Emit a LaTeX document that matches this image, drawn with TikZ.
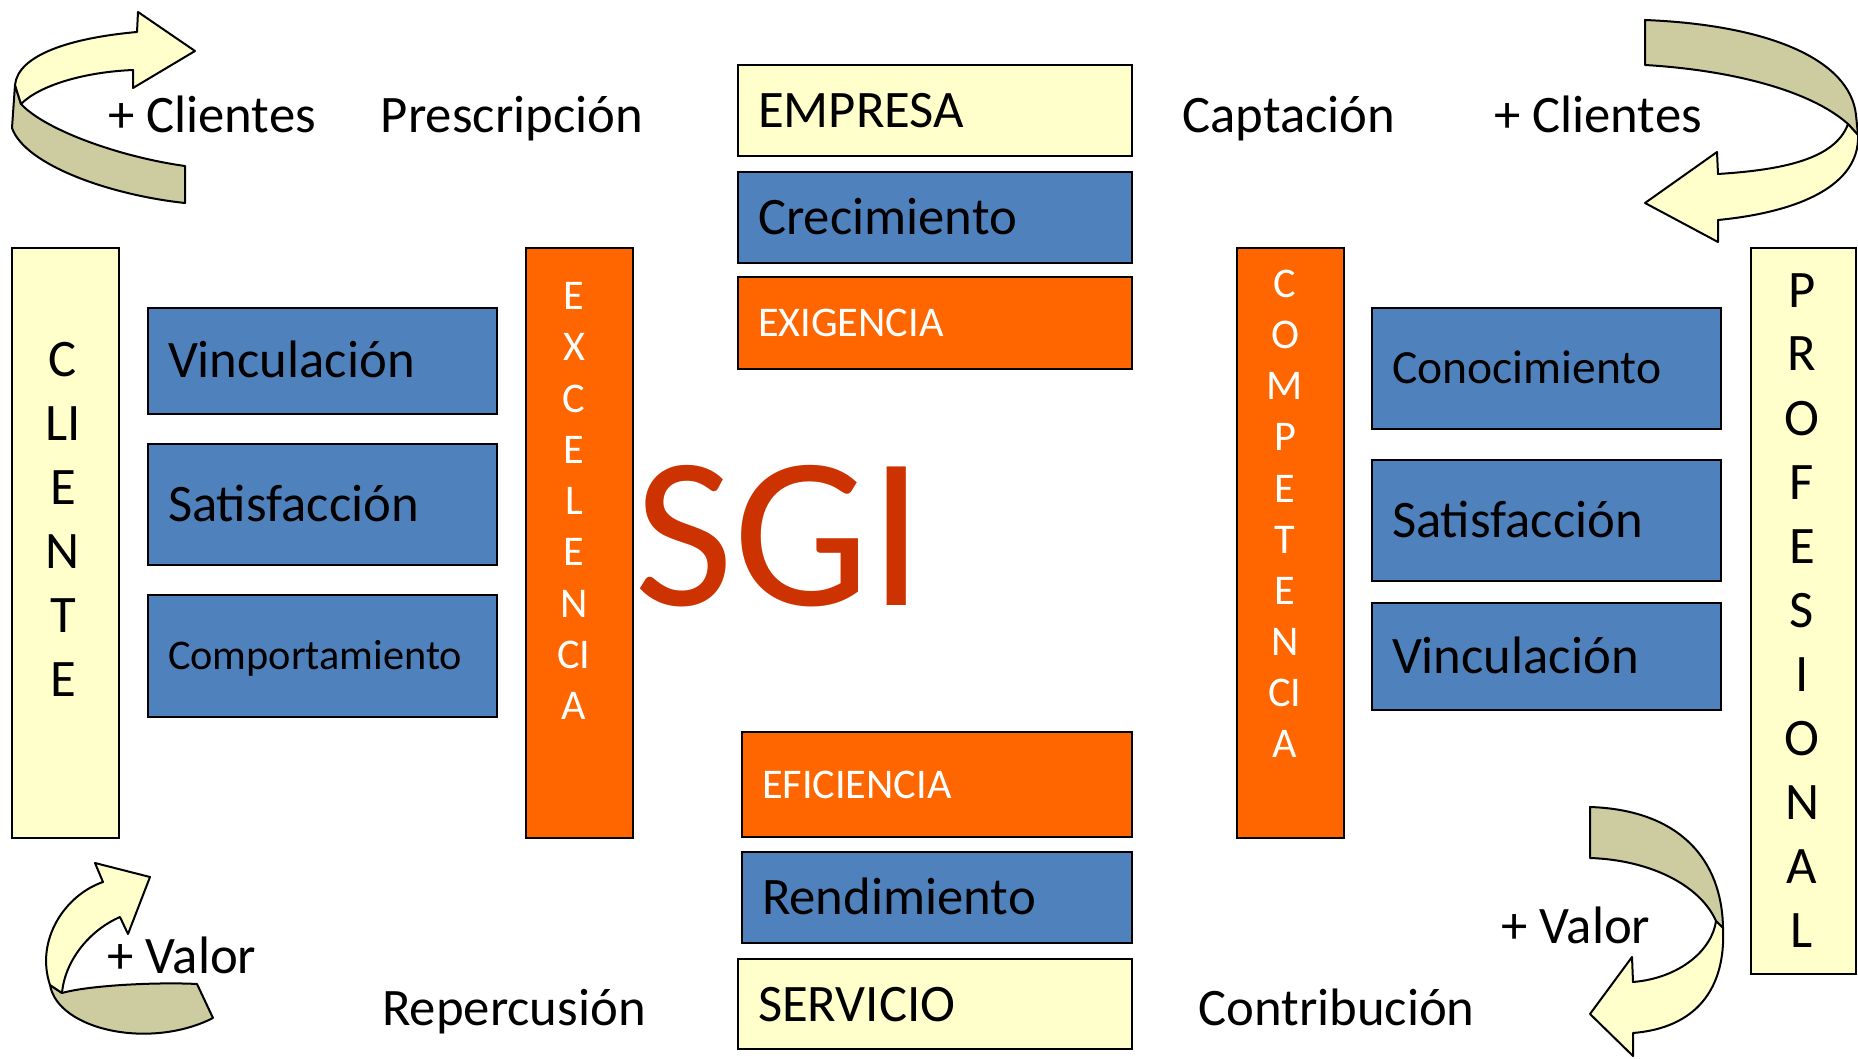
\documentclass[tikz,border=0pt]{standalone}
\usepackage{fontspec}
\setmainfont{Carlito}
\definecolor{azul}{RGB}{79,129,189}
\definecolor{naranja}{RGB}{255,102,0}
\definecolor{crema}{RGB}{255,255,204}
\definecolor{oliva}{RGB}{204,204,160}
\definecolor{rojo}{RGB}{204,51,0}
\newcommand\fgrande{\fontsize{26.35pt}{32pt}\selectfont}
\newcommand\fmedio{\fontsize{23.8pt}{29pt}\selectfont}
\newcommand\fchico{\fontsize{21.15pt}{25.6pt}\selectfont}
\newcommand\fsgi{\fontsize{108pt}{130pt}\selectfont}

\begin{document}
\begin{tikzpicture}[x=0.5pt,y=-0.5pt,
  caja/.style={draw=black,line width=1pt,inner xsep=10pt,inner ysep=0pt,outer sep=0pt,align=left,text depth=0pt},
  azulbox/.style={caja,fill=azul,font=\fgrande,text height=17pt},
  narbox/.style={caja,fill=naranja,text=white,font=\fchico,text height=13.6pt},
  cremabox/.style={caja,fill=crema,font=\fgrande,text height=17pt},
  barra/.style={draw=black,line width=1pt,minimum width=53.5pt,inner sep=0pt,outer sep=0pt},
  flecha/.style={draw=black,line width=1pt,line join=round},
  etiq/.style={font=\fgrande,anchor=base,inner sep=0pt}]
  \useasboundingbox (0,0) rectangle (1858,1059);

  \draw[flecha,fill=oliva] (15,85) -- (12,128) .. controls (25,165) and (110,195) .. (185,203) -- (185,166) .. controls (120,157) and (45,130) .. (21,104) -- cycle;
  \draw[flecha,fill=crema] (21,104) .. controls (40,85) and (85,72) .. (133,70) -- (133,88) -- (195,51) -- (138,12) -- (137,32) .. controls (70,38) and (18,55) .. (15,85) -- cycle;

  \draw[flecha,fill=oliva] (1645,20) .. controls (1770,25) and (1850,60) .. (1856,115) -- (1858,135) -- (1848,124) .. controls (1810,90) and (1730,70) .. (1645,65) -- cycle;
  \draw[flecha,fill=crema] (1848,124) .. controls (1835,160) and (1780,170) .. (1718,174) -- (1717,152) -- (1645,203) -- (1718,242) -- (1718,220) .. controls (1800,212) and (1860,185) .. (1858,135) -- cycle;

  \draw[flecha,fill=oliva] (50,985) .. controls (58,1030) and (150,1050) .. (213,1018) -- (197,984) .. controls (160,982) and (90,985) .. (62,993) -- cycle;
  \draw[flecha,fill=crema] (50,985) .. controls (35,940) and (65,895) .. (103,882) -- (95,863) -- (150,877) -- (128,934) -- (120,917) .. controls (90,930) and (65,960) .. (62,993) -- cycle;

  \draw[flecha,fill=oliva] (1590,807) .. controls (1680,810) and (1722,860) .. (1723,928) -- (1716,921) .. controls (1700,885) and (1650,860) .. (1590,858) -- cycle;
  \draw[flecha,fill=crema] (1716,921) .. controls (1712,950) and (1680,978) .. (1633,982) -- (1632,957) -- (1590,1014) -- (1633,1056) -- (1633,1033) .. controls (1695,1028) and (1726,990) .. (1723,928) -- cycle;

  \node[barra,fill=crema,minimum height=295pt] (cliente) at (65.5,543) {};
  \node[barra,fill=naranja,minimum height=295pt] (excel) at (579.5,543) {};
  \node[barra,fill=naranja,minimum height=295pt] (compet) at (1290.5,543) {};
  \node[barra,fill=crema,minimum width=52.5pt,minimum height=363pt] (profes) at (1803.5,611) {};

  \foreach \l [count=\i from 0] in {C,LI,E,N,T,E}
    \node[etiq] (cli\i) at (63,376+64*\i) {\l};
  \foreach \l [count=\i from 0] in {P,R,O,F,E,S,I,O,N,A,L}
    \node[etiq] (pro\i) at (1802,307+64*\i) {\l};
  \foreach \l [count=\i from 0] in {E,X,C,E,L,E,N,CI,A}
    \node[etiq,font=\fchico,text=white] (exc\i) at (574,309.6+51.25*\i) {\l};
  \foreach \l [count=\i from 0] in {C,O,M,P,E,T,E,N,CI,A}
    \node[etiq,font=\fchico,text=white] (com\i) at (1285,297.6+51.1*\i) {\l};

  \node[azulbox,text width=154.5pt,minimum height=53pt] (vincI) at (322.5,361) {Vinculación};
  \node[azulbox,text width=154.5pt,minimum height=60.5pt] (satI) at (322.5,504.5) {Satisfacción};
  \node[azulbox,font=\fchico,text height=13.6pt,text width=154.5pt,minimum height=61pt] (comport) at (322.5,656) {Comportamiento};

  \node[cremabox,text width=177pt,minimum height=45.5pt] (empresa) at (935,110.5) {EMPRESA};
  \node[azulbox,text width=177pt,minimum height=45.5pt] (crec) at (935,217.5) {Crecimiento};
  \node[narbox,text width=177pt,minimum height=46pt] (exig) at (935,323) {EXIGENCIA};

  \node[narbox,text width=175pt,minimum height=52.5pt] (efic) at (937,784.5) {EFICIENCIA};
  \node[azulbox,text width=175pt,minimum height=45.5pt] (rend) at (937,897.5) {Rendimiento};
  \node[cremabox,text width=177pt,minimum height=45pt] (servicio) at (935,1004) {SERVICIO};

  \node[azulbox,font=\fmedio,text height=15.3pt,text width=154.5pt,minimum height=60.5pt] (conoc) at (1546.5,368.5) {Conocimiento};
  \node[azulbox,text width=154.5pt,minimum height=60.5pt] (satD) at (1546.5,520.5) {Satisfacción};
  \node[azulbox,text width=154.5pt,minimum height=53.5pt] (vincD) at (1546.5,656.5) {Vinculación};

  \node[font=\fsgi,text=rojo,anchor=base,inner sep=0pt] (sgi) at (779,605) {SGI};

  \node[etiq] (masCliI) at (212,133) {+ Clientes};
  \node[etiq] (prescr) at (512,133) {Prescripción};
  \node[etiq] (capta) at (1289,133) {Captación};
  \node[etiq] (masCliD) at (1598,133) {+ Clientes};
  \node[etiq] (masValI) at (182,973) {+ Valor};
  \node[etiq] (reperc) at (514,1025) {Repercusión};
  \node[etiq] (contrib) at (1336.5,1025) {Contribución};
  \node[etiq] (masValD) at (1576,943) {+ Valor};
\end{tikzpicture}
\end{document}
